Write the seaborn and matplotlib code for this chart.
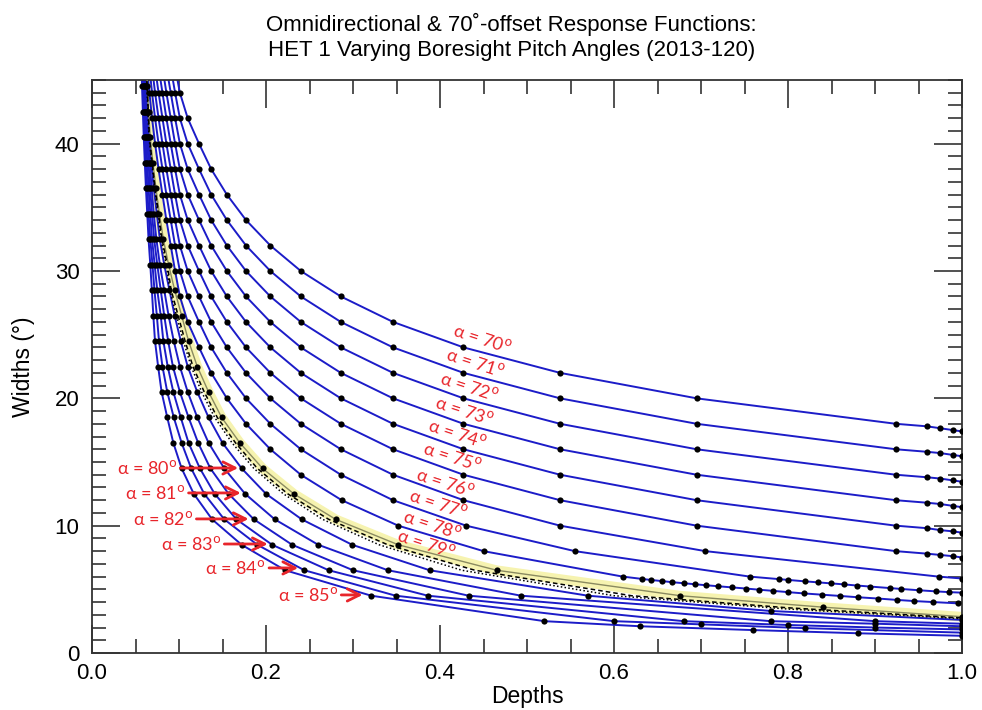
import matplotlib
matplotlib.use("Agg")
import matplotlib.pyplot as plt
import pandas as pd
import seaborn as sns

sns.set_theme(style="white")
plt.rcParams['font.family'] = ['Liberation Sans', 'DejaVu Sans']
plt.rcParams['text.color'] = 'black'
plt.rcParams['axes.labelcolor'] = 'black'

# ---------------- data ----------------
# upper family (alpha 70-78): dots on even widths, then a few near depth = 1
d70 = [0.0955, 0.101, 0.110, 0.123, 0.137, 0.155, 0.177, 0.205, 0.240, 0.286, 0.346, 0.427, 0.538, 0.695, 0.924,
       0.960, 0.975, 0.990, 1.000]
w70 = [46, 44, 42, 40, 38, 36, 34, 32, 30, 28, 26, 24, 22, 20, 18, 17.8, 17.65, 17.5, 17.4]

d71 = [0.0905, 0.0955, 0.101, 0.110, 0.123, 0.137, 0.155, 0.177, 0.205, 0.240, 0.286, 0.346, 0.427, 0.538, 0.695,
       0.924, 0.960, 0.975, 0.990, 1.000]
w71 = [46, 44, 42, 40, 38, 36, 34, 32, 30, 28, 26, 24, 22, 20, 18, 16, 15.8, 15.7, 15.55, 15.45]

d72 = [0.0855, 0.0905, 0.0955, 0.101, 0.110, 0.123, 0.137, 0.155, 0.177, 0.205, 0.240, 0.286, 0.346, 0.427, 0.538,
       0.695, 0.924, 0.960, 0.975, 0.990, 1.000]
w72 = [46, 44, 42, 40, 38, 36, 34, 32, 30, 28, 26, 24, 22, 20, 18, 16, 14, 13.8, 13.7, 13.55, 13.45]

d73 = [0.081, 0.0855, 0.0905, 0.0955, 0.101, 0.110, 0.123, 0.137, 0.155, 0.177, 0.205, 0.240, 0.286, 0.346, 0.427,
       0.538, 0.695, 0.924, 0.960, 0.975, 0.990, 1.000]
w73 = [46, 44, 42, 40, 38, 36, 34, 32, 30, 28, 26, 24, 22, 20, 18, 16, 14, 12, 11.8, 11.7, 11.55, 11.45]

d74 = [0.0765, 0.081, 0.0855, 0.0905, 0.0955, 0.101, 0.110, 0.123, 0.137, 0.155, 0.177, 0.205, 0.240, 0.286, 0.346,
       0.427, 0.538, 0.695, 0.924, 0.960, 0.975, 0.990, 1.000]
w74 = [46, 44, 42, 40, 38, 36, 34, 32, 30, 28, 26, 24, 22, 20, 18, 16, 14, 12, 10, 9.8, 9.65, 9.55, 9.45]

d75 = [0.0725, 0.0765, 0.081, 0.0855, 0.0905, 0.0955, 0.101, 0.110, 0.123, 0.137, 0.155, 0.177, 0.205, 0.240, 0.286,
       0.346, 0.427, 0.538, 0.695, 0.924, 0.960, 0.975, 0.990, 1.000]
w75 = [46, 44, 42, 40, 38, 36, 34, 32, 30, 28, 26, 24, 22, 20, 18, 16, 14, 12, 10, 8, 7.8, 7.7, 7.6, 7.5]

d76 = [0.069, 0.0725, 0.0765, 0.081, 0.0855, 0.0905, 0.0955, 0.101, 0.110, 0.123, 0.137, 0.155, 0.177, 0.205, 0.240,
       0.286, 0.346, 0.427, 0.538, 0.705, 0.973, 1.000]
w76 = [46, 44, 42, 40, 38, 36, 34, 32, 30, 28, 26, 24, 22, 20, 18, 16, 14, 12, 10, 8, 6, 5.85]

d77 = [0.066, 0.069, 0.0725, 0.0765, 0.081, 0.0855, 0.0905, 0.0955, 0.101, 0.110, 0.123, 0.137, 0.155, 0.177, 0.205,
       0.240, 0.286, 0.346, 0.430, 0.555, 0.756,
       0.790, 0.800, 0.819, 0.834, 0.849, 0.864, 0.879, 0.894, 0.917, 0.930, 0.950, 0.970, 0.985, 1.000]
w77 = [46, 44, 42, 40, 38, 36, 34, 32, 30, 28, 26, 24, 22, 20, 18, 16, 14, 12, 10, 8, 6,
       5.8, 5.74, 5.63, 5.55, 5.47, 5.39, 5.3, 5.22, 5.1, 5.03, 4.93, 4.84, 4.78, 4.74]

d78 = [0.063, 0.066, 0.069, 0.0725, 0.0765, 0.081, 0.0855, 0.0905, 0.0955, 0.101, 0.110, 0.123, 0.137, 0.155, 0.177,
       0.205, 0.240, 0.287, 0.352, 0.450, 0.610,
       0.632, 0.643, 0.655, 0.667, 0.680, 0.693, 0.706, 0.720, 0.736, 0.752, 0.767, 0.783, 0.800, 0.818, 0.839, 0.860,
       0.880, 0.903, 0.925, 0.945, 0.967, 0.995]
w78 = [46, 44, 42, 40, 38, 36, 34, 32, 30, 28, 26, 24, 22, 20, 18, 16, 14, 12, 10, 8, 6,
       5.82, 5.73, 5.65, 5.56, 5.48, 5.40, 5.32, 5.24, 5.15, 5.06, 4.97, 4.88, 4.78, 4.68, 4.58, 4.48,
       4.38, 4.28, 4.17, 4.08, 4.0, 3.9]

# lower family (alpha 79-85): dots on odd half widths
w_half = [46.5, 44.5, 42.5, 40.5, 38.5, 36.5, 34.5, 32.5, 30.5, 28.5, 26.5, 24.5, 22.5, 20.5, 18.5, 16.5, 14.5,
          12.5, 10.5, 8.5, 6.5, 4.5]
d79 = [0.063, 0.0635, 0.065, 0.067, 0.070, 0.0735, 0.0775, 0.082, 0.088, 0.095, 0.103, 0.111, 0.121, 0.134, 0.149,
       0.170, 0.196, 0.232, 0.280, 0.352, 0.465, 0.676, 0.840, 1.000]
w79 = w_half + [3.6, 2.85]

d80 = [0.062, 0.0625, 0.064, 0.0657, 0.068, 0.071, 0.0745, 0.078, 0.083, 0.089, 0.095, 0.102, 0.110, 0.121, 0.134,
       0.150, 0.172, 0.200, 0.241, 0.299, 0.388, 0.570, 0.780, 1.000]
w80 = w_half + [3.3, 2.6]

d81 = [0.061, 0.0615, 0.063, 0.0645, 0.0665, 0.0685, 0.071, 0.074, 0.078, 0.083, 0.088, 0.094, 0.101, 0.110, 0.121,
       0.134, 0.152, 0.176, 0.210, 0.260, 0.340, 0.493, 0.900, 1.000]
w81 = w_half + [2.5, 2.3]

d82 = [0.060, 0.0605, 0.0618, 0.0632, 0.065, 0.0668, 0.069, 0.0715, 0.075, 0.079, 0.083, 0.0875, 0.093, 0.101, 0.111,
       0.122, 0.136, 0.157, 0.186, 0.230, 0.300, 0.433, 0.780, 0.900, 1.000]
w82 = w_half + [2.5, 2.3, 2.1]

d83 = [0.059, 0.0595, 0.0607, 0.062, 0.0635, 0.065, 0.067, 0.069, 0.072, 0.075, 0.079, 0.082, 0.087, 0.0935, 0.102,
       0.111, 0.124, 0.141, 0.166, 0.207, 0.272, 0.386, 0.680, 0.800, 0.900, 1.000]
w83 = w_half + [2.5, 2.2, 2.0, 1.85]

d84 = [0.058, 0.0585, 0.0595, 0.0607, 0.062, 0.0635, 0.065, 0.067, 0.0695, 0.0718, 0.0745, 0.077, 0.081, 0.0865,
       0.094, 0.103, 0.114, 0.129, 0.152, 0.190, 0.244, 0.349, 0.600, 0.700, 0.820, 1.000]
w84 = w_half + [2.5, 2.25, 1.95, 1.6]

d85 = [0.057, 0.0575, 0.0585, 0.0595, 0.0607, 0.062, 0.0635, 0.065, 0.067, 0.0688, 0.0705, 0.0724, 0.076, 0.080,
       0.0865, 0.0935, 0.103, 0.117, 0.138, 0.172, 0.222, 0.321, 0.520, 0.630, 0.760, 0.880, 1.000]
w85 = w_half + [2.5, 2.1, 1.8, 1.55, 1.35]

# measured (black dashed / dotted) curves near alpha = 79
dash_d = [0.0628, 0.066, 0.0725, 0.0805, 0.0865, 0.091, 0.099, 0.107, 0.116, 0.129, 0.144, 0.165, 0.190, 0.225,
          0.272, 0.340, 0.440, 0.620, 0.800, 1.000]
dash_w = [45.5, 40.5, 36.5, 32.5, 30.5, 28.5, 26.5, 24.5, 22.5, 20.5, 18.5, 16.5, 14.5, 12.5, 10.5, 8.5, 6.5, 4.5,
          3.55, 2.75]
dot_d = [0.0625, 0.0655, 0.072, 0.0795, 0.0855, 0.0895, 0.097, 0.105, 0.114, 0.126, 0.141, 0.161, 0.186, 0.220,
         0.265, 0.330, 0.425, 0.600, 0.800, 1.000]
dot_w = [45.5, 40.5, 36.5, 32.5, 30.5, 28.5, 26.5, 24.5, 22.5, 20.5, 18.5, 16.5, 14.5, 12.5, 10.5, 8.5, 6.5, 4.5,
         3.45, 2.7]

# curve labels
lab_alpha = [70, 71, 72, 73, 74, 75, 76, 77, 78, 79]
lab_x = [0.449, 0.440, 0.434, 0.428, 0.420, 0.414, 0.406, 0.398, 0.391, 0.384]
lab_y = [24.7, 22.8, 20.9, 19.0, 17.2, 15.4, 13.4, 11.7, 10.05, 8.6]

arr_alpha = [80, 81, 82, 83, 84, 85]
arr_tx = [0.063, 0.0725, 0.0815, 0.1136, 0.165, 0.248]
arr_ty = [14.53, 12.57, 10.53, 8.56, 6.68, 4.56]
arr_hx = [0.168, 0.171, 0.180, 0.202, 0.237, 0.311]

x_ticks = [0.0, 0.2, 0.4, 0.6, 0.8, 1.0]
x_ticklabels = ["0.0", "0.2", "0.4", "0.6", "0.8", "1.0"]
y_ticks = [0, 10, 20, 30, 40]

# ---------------- tables ----------------
curves = {70: (d70, w70), 71: (d71, w71), 72: (d72, w72), 73: (d73, w73), 74: (d74, w74),
          75: (d75, w75), 76: (d76, w76), 77: (d77, w77), 78: (d78, w78), 79: (d79, w79),
          80: (d80, w80), 81: (d81, w81), 82: (d82, w82), 83: (d83, w83), 84: (d84, w84), 85: (d85, w85)}
rows = []
for a, (dd, ww) in curves.items():
    for i, (x, y) in enumerate(zip(dd, ww)):
        rows.append({"alpha": a, "order": i, "depth": x, "width": y})
df = pd.DataFrame(rows)
df_blue = df[df.alpha != 79]
df_79 = df[df.alpha == 79]
df_dash = pd.DataFrame({"depth": dash_d, "width": dash_w})
df_dot = pd.DataFrame({"depth": dot_d, "width": dot_w})

BLUE = "#1c1cc8"
RED = "#e8252b"
LABEL_FONT = ["Lato", "DejaVu Sans"]

fig = plt.figure(figsize=(9.82, 7.10), dpi=100)
ax = fig.add_axes([92 / 982, 1 - 653 / 710, 870 / 982, 573 / 710])

# yellow highlight for alpha = 79
ax.plot(df_79.depth, df_79.width, color="#f6f3b0", lw=7, solid_capstyle="round", zorder=1)
sns.lineplot(data=df_79, x="depth", y="width", sort=False, estimator=None, color="#8a8a60",
             lw=1.0, ax=ax, zorder=3)
sns.lineplot(data=df_dash, x="depth", y="width", sort=False, estimator=None, color="black",
             lw=1.1, ax=ax, zorder=3, linestyle=(0, (3, 2)))
sns.lineplot(data=df_dot, x="depth", y="width", sort=False, estimator=None, color="black",
             lw=1.1, ax=ax, zorder=3, linestyle=(0, (1, 1.5)))
sns.lineplot(data=df_blue, x="depth", y="width", units="alpha", estimator=None, sort=False,
             color=BLUE, lw=1.4, ax=ax, zorder=2)
sns.scatterplot(data=df, x="depth", y="width", color="black", s=20, linewidth=0, ax=ax, zorder=4)

# labels on curves
for a, x, y in zip(lab_alpha, lab_x, lab_y):
    ax.text(x, y, "α = %d$^{\\mathrm{o}}$" % a, color=RED, fontsize=13, rotation=-18,
            ha="center", va="center", family=LABEL_FONT, zorder=6)

for a, tx, ty, hx in zip(arr_alpha, arr_tx, arr_ty, arr_hx):
    ax.annotate("α = %d$^{\\mathrm{o}}$" % a, xy=(hx, ty), xytext=(tx, ty), color=RED, fontsize=13,
                ha="center", va="center", family=LABEL_FONT, zorder=6,
                arrowprops=dict(arrowstyle="->", color=RED, lw=2.0, mutation_scale=22,
                                shrinkA=0, shrinkB=0))

ax.set_xlim(0, 1.0)
ax.set_ylim(0, 45)
ax.set_xticks(x_ticks)
ax.set_xticklabels(x_ticklabels)
ax.set_yticks(y_ticks)
ax.set_xticks([i * 0.05 for i in range(21)], minor=True)
ax.set_yticks(list(range(0, 46)), minor=True)
ax.tick_params(which="both", direction="in", top=True, right=True, bottom=True, left=True,
               colors="#333333", labelcolor="black", labelsize=16)
ax.tick_params(which="major", length=20, width=1.2)
ax.tick_params(which="minor", length=10, width=1.2)
ax.tick_params(axis="x", which="major", pad=7)
ax.tick_params(axis="y", which="major", pad=9)
for s in ax.spines.values():
    s.set_color("#333333")
    s.set_linewidth(1.3)

ax.set_xlabel("Depths", fontsize=16.5, labelpad=1, color="black")
ax.set_ylabel("Widths (°)", fontsize=16.5, labelpad=14, color="black")

fig.text(0.521, 0.966, "Omnidirectional & 70˚-offset Response Functions:", ha="center", va="center",
         fontsize=16, color="black")
fig.text(0.521, 0.929, "HET 1 Varying Boresight Pitch Angles (2013-120)", ha="center", va="center",
         fontsize=16, color="black")

fig.savefig("out.png", dpi=100)
